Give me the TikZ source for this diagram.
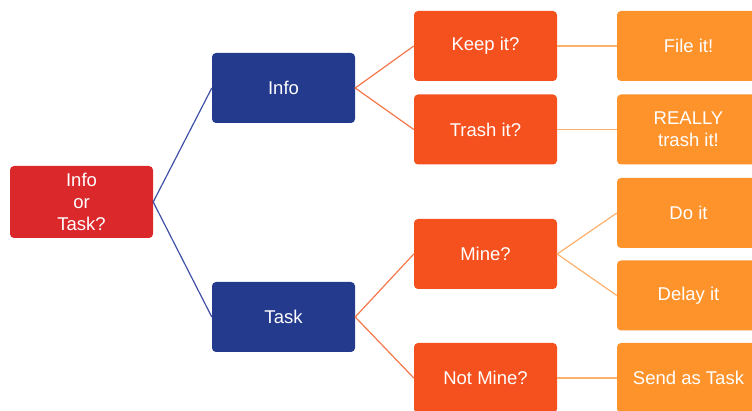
\documentclass[tikz,border=0pt]{standalone}
\usepackage{fontspec}
\setmainfont{Liberation Sans}
\definecolor{rootred}{HTML}{DB282B}
\definecolor{infoblue}{HTML}{243A8C}
\definecolor{askred}{HTML}{F4511E}
\definecolor{doorange}{HTML}{FE932C}
\definecolor{blueline}{HTML}{3F51A5}
\definecolor{redline}{HTML}{F4774A}
\definecolor{orangeline}{HTML}{FDB06C}
\tikzset{
	box/.style={rectangle, rounded corners=4pt, minimum width=143pt, minimum height=70pt,
		inner sep=0pt, text=white, align=center, font=\fontsize{18.5}{22}\selectfont},
	rootbox/.style={box, fill=rootred, minimum height=72pt},
	kindbox/.style={box, fill=infoblue},
	askbox/.style={box, fill=askred},
	actbox/.style={box, fill=doorange},
	wire/.style={line width=1.2pt}
}
\begin{document}
\begin{tikzpicture}[x=1pt, y=-1pt]
		\useasboundingbox (0,0) rectangle (752,411);

		% корень
		\node [rootbox] (root) at ( 81.5, 202 ) {Info\\or\\Task?};

		% информация или задача
		\node [kindbox] (info) at ( 283.5, 88 ) {Info};
		\node [kindbox] (task) at ( 283.5, 317 ) {Task};

		% вопросы
		\node [askbox] (keep)    at ( 485.5, 46 )  {Keep it?};
		\node [askbox] (trash)   at ( 485.5, 129.5 ) {Trash it?};
		\node [askbox] (mine)    at ( 485.5, 254 ) {Mine?};
		\node [askbox] (notmine) at ( 485.5, 378 ) {Not Mine?};

		% действия
		\node [actbox] (file)   at ( 688.5, 46 )  {File it!};
		\node [actbox] (really) at ( 688.5, 129.5 ) {REALLY\\trash it!};
		\node [actbox] (doit)   at ( 688.5, 213 ) {Do it};
		\node [actbox] (delay)  at ( 688.5, 295.5 ) {Delay it};
		\node [actbox] (send)   at ( 688.5, 378 ) {Send as Task};

		% связи
		\draw [wire, blueline] (info.west) -- (root.east) -- (task.west);
		\draw [wire, redline] (keep.west) -- (info.east) -- (trash.west);
		\draw [wire, redline] (mine.west) -- (task.east) -- (notmine.west);
		\draw [wire, orangeline] (keep.east) -- (file.west);
		\draw [wire, orangeline] (trash.east) -- (really.west);
		\draw [wire, orangeline] (doit.west) -- (mine.east) -- (delay.west);
		\draw [wire, orangeline] (notmine.east) -- (send.west);
	\end{tikzpicture}
\end{document}
